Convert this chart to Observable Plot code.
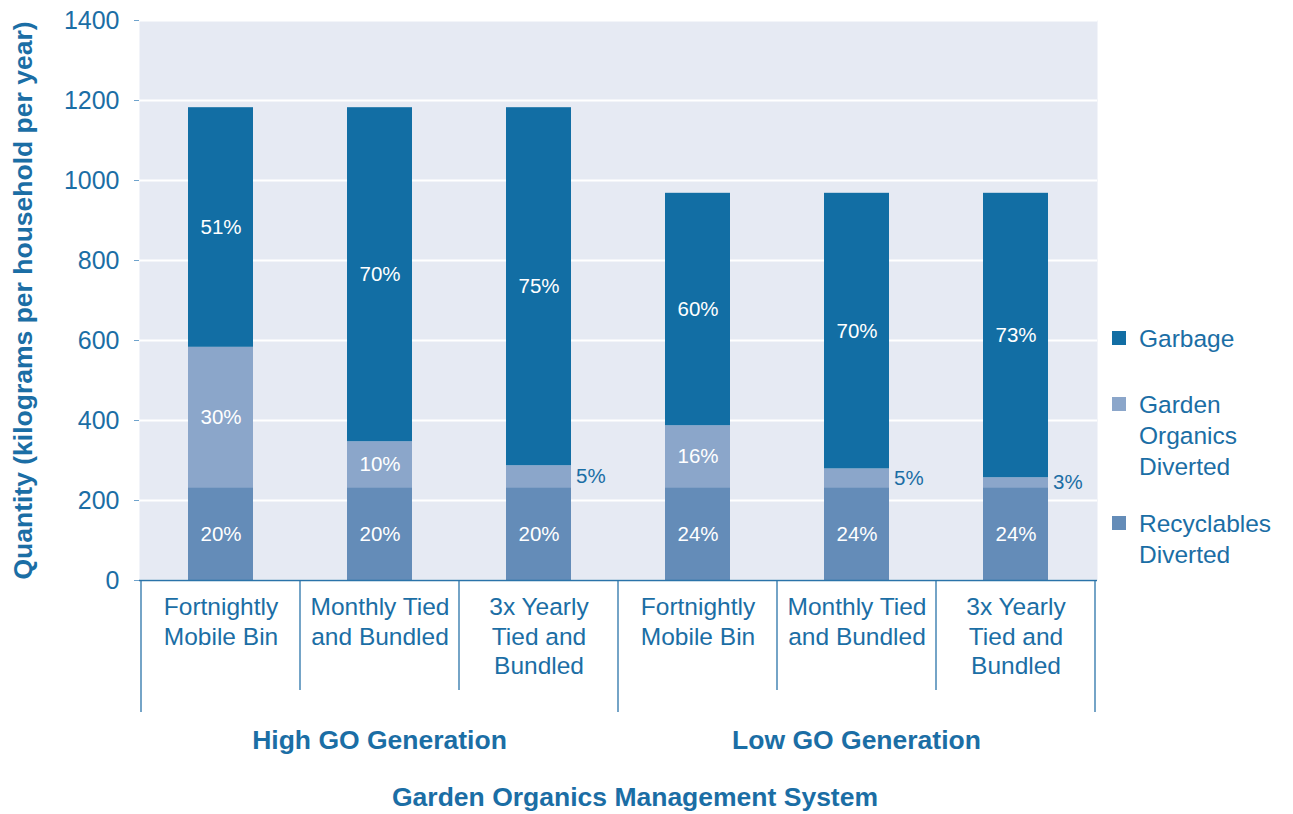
<!DOCTYPE html>
<html>
<head>
<meta charset="utf-8">
<script src="https://cdn.jsdelivr.net/npm/d3@7"></script>
<script src="https://cdn.jsdelivr.net/npm/@observablehq/plot@0.6"></script>
<style>
  html, body { margin: 0; padding: 0; background: #ffffff; }
  #wrap { position: relative; width: 1293px; height: 814px; font-family: "Liberation Sans", Arial, sans-serif; }
  .legend-item { position: absolute; left: 1112px; display: flex; align-items: flex-start; }
  .legend-swatch { width: 14px; height: 14px; margin-top: 8.5px; margin-right: 13px; flex: none; }
  .legend-text { font-size: 24.5px; line-height: 31px; color: #1B6EA5; white-space: pre-line; }
</style>
</head>
<body>
<div id="wrap"></div>
<script>
// ---- Data ----
const groups = ["High GO Generation", "Low GO Generation"];
const systems = ["Fortnightly\nMobile Bin", "Monthly Tied\nand Bundled", "3x Yearly\nTied and\nBundled"];
const seriesNames = ["Recyclables Diverted", "Garden Organics Diverted", "Garbage"];
const recyclables = [232, 232, 232, 232, 232, 232];
const gardenOrganics = [351, 115, 55, 155, 47, 25];
const garbage = [599, 835, 895, 581, 689, 711];
const recyclablesPct = ["20%", "20%", "20%", "24%", "24%", "24%"];
const gardenOrganicsPct = ["30%", "10%", "5%", "16%", "5%", "3%"];
const garbagePct = ["51%", "70%", "75%", "60%", "70%", "73%"];
const yTicks = [0, 200, 400, 600, 800, 1000, 1200, 1400];
const yTitle = "Quantity (kilograms per household per year)";
const xTitle = "Garden Organics Management System";
const legendOrder = ["Garbage", "Garden Organics Diverted", "Recyclables Diverted"];
const legendLabels = ["Garbage", "Garden\nOrganics\nDiverted", "Recyclables\nDiverted"];
const seriesColors = ["#648CB8", "#8BA6CA", "#126EA4"];

// ---- Build tables ----
const cats = [];
groups.forEach((g, gi) => systems.forEach((s, si) => cats.push({key: gi * systems.length + si, group: g, gi, system: s})));
const seriesValues = [recyclables, gardenOrganics, garbage];
const seriesPcts = [recyclablesPct, gardenOrganicsPct, garbagePct];
const data = [];
cats.forEach((c, i) => {
  seriesNames.forEach((name, k) => {
    data.push({key: c.key, series: name, value: seriesValues[k][i], pct: seriesPcts[k][i]});
  });
});
const isInside = d => d.value >= 60;

const textColor = "#1B6EA5";
const W = 1293, H = 814;
const margin = {top: 20, right: 196, bottom: 234, left: 139};

function bottomDecor(index, scales, values, dimensions) {
  const x = scales.x;
  const step = typeof x.step === "function" ? x.step() : x.step;
  const bw = typeof x.bandwidth === "function" ? x.bandwidth() : x.bandwidth;
  const base = dimensions.height - dimensions.marginBottom;
  const g = d3.create("svg:g");
  const keys = cats.map(c => c.key);
  const left = k => x(k) - (step - bw) / 2;
  // dividers
  cats.forEach((c, i) => {
    const isGroupStart = i % systems.length === 0;
    g.append("line")
      .attr("x1", left(c.key)).attr("x2", left(c.key))
      .attr("y1", base).attr("y2", base + (isGroupStart ? 132 : 110))
      .attr("stroke", "#2A73A9").attr("stroke-width", 1.3);
  });
  const last = keys[keys.length - 1];
  const rightEdge = left(last) + step;
  g.append("line").attr("x1", rightEdge).attr("x2", rightEdge)
    .attr("y1", base).attr("y2", base + 132)
    .attr("stroke", "#2A73A9").attr("stroke-width", 1.3);
  // group labels
  groups.forEach((gname, gi) => {
    const ks = cats.filter(c => c.gi === gi).map(c => c.key);
    const x0 = left(ks[0]);
    const x1 = left(ks[ks.length - 1]) + step;
    g.append("text")
      .attr("x", (x0 + x1) / 2).attr("y", base + 160)
      .attr("text-anchor", "middle").attr("dominant-baseline", "central")
      .attr("font-weight", "bold").attr("font-size", 26.5)
      .attr("fill", textColor).text(gname);
  });
  // axis title
  const fx0 = left(keys[0]), fx1 = rightEdge;
  g.append("text")
    .attr("x", (fx0 + fx1) / 2 + 17).attr("y", base + 217)
    .attr("text-anchor", "middle").attr("dominant-baseline", "central")
    .attr("font-weight", "bold").attr("font-size", 26.5)
    .attr("fill", textColor).text(xTitle);
  return g.node();
}

const plot = Plot.plot({
  width: W,
  height: H,
  marginTop: margin.top,
  marginRight: margin.right,
  marginBottom: margin.bottom,
  marginLeft: margin.left,
  style: {fontFamily: '"Liberation Sans", Arial, sans-serif', color: textColor, background: "transparent", overflow: "visible"},
  x: {domain: cats.map(c => c.key), paddingInner: 0.593, paddingOuter: 0.2965, axis: null},
  y: {domain: [0, 1400], axis: null},
  color: {domain: seriesNames, range: seriesColors},
  marks: [
    Plot.frame({fill: "#E6EAF3", stroke: null}),
    Plot.gridY(yTicks, {stroke: "white", strokeOpacity: 1, strokeWidth: 2}),
    Plot.axisY({ticks: yTicks, tickSize: 5, tickPadding: 15, fontSize: 25, stroke: "#6FA3CC", fill: textColor, label: null, tickFormat: d => String(d)}),
    Plot.barY(data, {x: "key", y: "value", fill: "series", z: "series"}),
    Plot.text(data, Plot.stackY({x: "key", y: "value", z: "series", text: d => isInside(d) ? d.pct : "", fill: "white", fontSize: 20.5})),
    Plot.text(data, Plot.stackY({x: "key", y: "value", z: "series", text: d => isInside(d) ? "" : d.pct, fill: textColor, fontSize: 20.5, textAnchor: "start", dx: 37})),
    Plot.ruleY([0], {stroke: "#2A73A9", strokeWidth: 1.5}),
    Plot.text(cats, {x: "key", text: "system", frameAnchor: "bottom", lineAnchor: "top", dy: 14, fontSize: 24.5, lineHeight: 1.2, fill: textColor}),
    Plot.text([yTitle], {frameAnchor: "left", textAnchor: "middle", rotate: -90, dx: -116, fontWeight: "bold", fontSize: 26.5, fill: textColor}),
    bottomDecor
  ]
});

const wrap = document.getElementById("wrap");
wrap.appendChild(plot);

// legend (HTML overlay), colors taken from the plot's color scale
const colorScale = plot.scale("color");
const legendTops = [322.5, 388.5, 507.5];
legendOrder.forEach((name, i) => {
  const item = document.createElement("div");
  item.className = "legend-item";
  item.style.top = legendTops[i] + "px";
  const sw = document.createElement("div");
  sw.className = "legend-swatch";
  sw.style.background = colorScale.apply(name);
  const tx = document.createElement("div");
  tx.className = "legend-text";
  tx.textContent = legendLabels[i];
  item.appendChild(sw);
  item.appendChild(tx);
  wrap.appendChild(item);
});
</script>
</body>
</html>
